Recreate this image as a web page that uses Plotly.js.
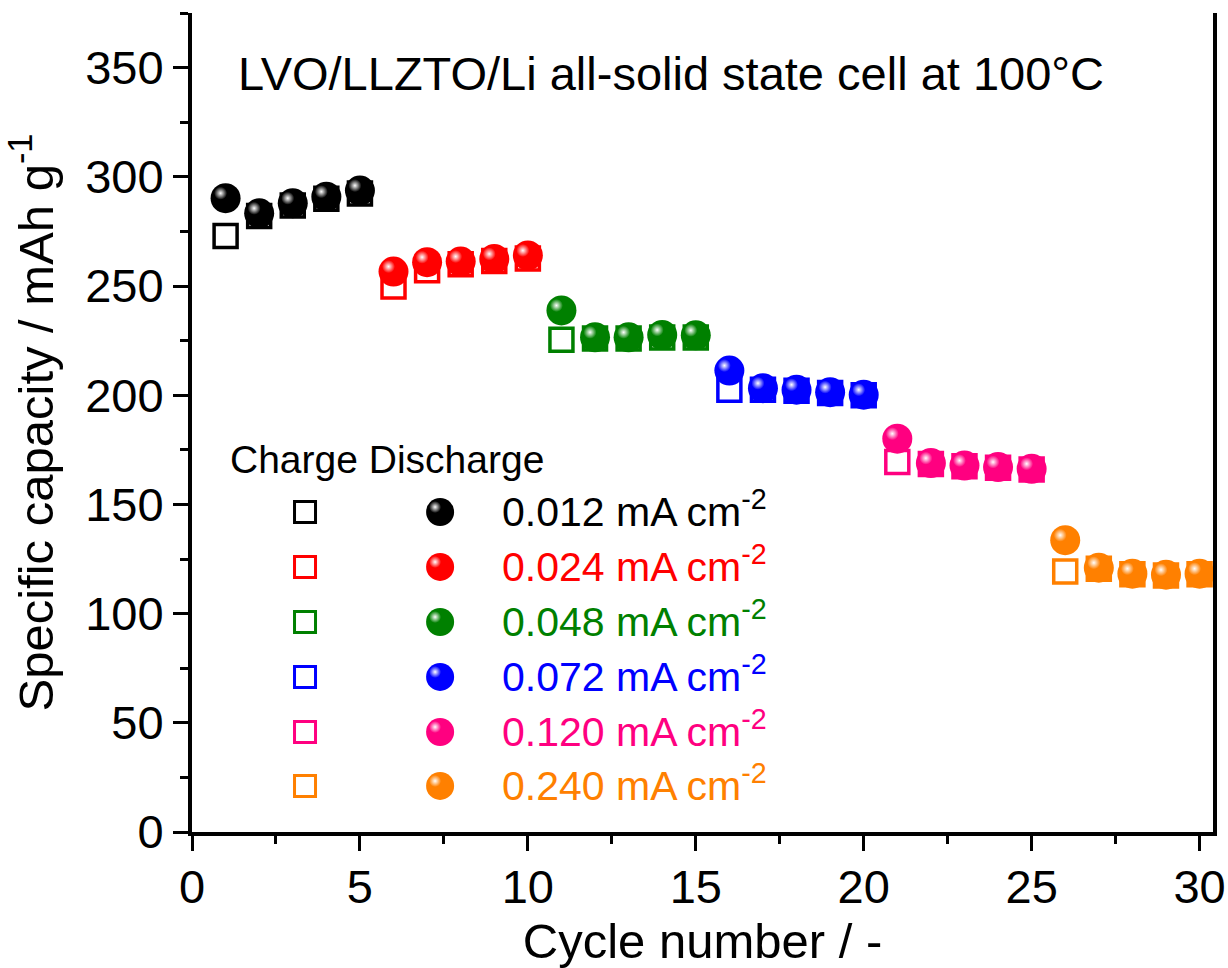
<!DOCTYPE html>
<html>
<head>
<meta charset="utf-8">
<script src="https://cdn.plot.ly/plotly-3.0.1.min.js"></script>
<style>html,body{margin:0;padding:0;background:#fff;}#chart{width:1228px;height:968px;}</style>
</head>
<body>
<div id="chart"></div>
<script>
// ---- data ----
const cyclesA = [1, 2, 3, 4, 5];
const cyclesB = [6, 7, 8, 9, 10];
const cyclesC = [11, 12, 13, 14, 15];
const cyclesD = [16, 17, 18, 19, 20];
const cyclesE = [21, 22, 23, 24, 25];
const cyclesF = [26, 27, 28, 29, 30];

const charge012 = [272.9, 282.0, 286.9, 290.0, 292.3];
const charge024 = [249.8, 257.2, 260.0, 261.5, 262.6];
const charge048 = [225.4, 226.0, 226.0, 226.4, 226.4];
const charge072 = [202.5, 202.5, 202.0, 201.0, 200.0];
const charge120 = [169.4, 168.5, 167.5, 166.8, 166.0];
const charge240 = [119.3, 120.5, 118.0, 117.5, 118.0];

const discharge012 = [290.2, 283.3, 287.9, 290.9, 293.7];
const discharge024 = [256.6, 260.9, 261.2, 262.4, 264.0];
const discharge048 = [238.8, 226.5, 226.5, 227.6, 227.4];
const discharge072 = [211.3, 203.2, 202.5, 201.4, 200.2];
const discharge120 = [180.1, 168.9, 167.8, 167.1, 166.3];
const discharge240 = [133.6, 121.0, 118.3, 117.8, 118.3];

const rateLabels = ['0.012 mA cm<sup>-2</sup>', '0.024 mA cm<sup>-2</sup>', '0.048 mA cm<sup>-2</sup>',
                    '0.072 mA cm<sup>-2</sup>', '0.120 mA cm<sup>-2</sup>', '0.240 mA cm<sup>-2</sup>'];
const colors = ['#000000', '#FF0000', '#008000', '#0000FF', '#FF0080', '#FF8000'];

const xTickVals = [0, 5, 10, 15, 20, 25, 30];
const yTickVals = [0, 50, 100, 150, 200, 250, 300, 350];

// ---- build ----
const groups = [
  [cyclesA, charge012, discharge012],
  [cyclesB, charge024, discharge024],
  [cyclesC, charge048, discharge048],
  [cyclesD, charge072, discharge072],
  [cyclesE, charge120, discharge120],
  [cyclesF, charge240, discharge240]
];

const FONT = '"Liberation Sans", Arial, Helvetica, sans-serif';
const traces = [];
// charge squares first (beneath)
groups.forEach((g, i) => {
  traces.push({x: g[0], y: g[1], type: 'scatter', mode: 'markers', showlegend: false, hoverinfo: 'skip',
    marker: {symbol: 'square-open', size: 23, color: colors[i], line: {color: colors[i], width: 3.5}}});
});
// discharge spheres
groups.forEach((g, i) => {
  traces.push({x: g[0], y: g[2], type: 'scatter', mode: 'markers', showlegend: false, hoverinfo: 'skip',
    marker: {symbol: 'circle', size: 30, color: colors[i], line: {width: 0}}});
});
// highlights on spheres (shifted overlay axes)
groups.forEach((g, i) => {
  traces.push({x: g[0], y: g[2], xaxis: 'x2', yaxis: 'y2', type: 'scatter', mode: 'markers', showlegend: false, hoverinfo: 'skip',
    marker: {symbol: 'circle', size: 13, color: colors[i], line: {width: 0}, gradient: {type: 'radial', color: '#FFFFFF'}}});
});

// custom legend markers on a [0,1] overlay axis
const legRowY = [0.3907, 0.3236, 0.2564, 0.1893, 0.1221, 0.0562];
const legSqX = 0.1107, legCirX = 0.243, legTxtX = 0.3016;
legRowY.forEach((yy, i) => {
  traces.push({x: [legSqX], y: [yy], xaxis: 'x3', yaxis: 'y3', type: 'scatter', mode: 'markers', showlegend: false, hoverinfo: 'skip',
    marker: {symbol: 'square-open', size: 21, color: colors[i], line: {color: colors[i], width: 3}}});
  traces.push({x: [legCirX], y: [yy], xaxis: 'x3', yaxis: 'y3', type: 'scatter', mode: 'markers', showlegend: false, hoverinfo: 'skip',
    marker: {symbol: 'circle', size: 28, color: colors[i], line: {width: 0}}});
  traces.push({x: [legCirX - 0.0049], y: [yy + 0.0061], xaxis: 'x3', yaxis: 'y3', type: 'scatter', mode: 'markers', showlegend: false, hoverinfo: 'skip',
    marker: {symbol: 'circle', size: 12, color: colors[i], line: {width: 0}, gradient: {type: 'radial', color: '#FFFFFF'}}});
});

const annotations = [
  {text: 'LVO/LLZTO/Li all-solid state cell at 100°C', xref: 'paper', yref: 'paper', x: 0.043, y: 0.9267,
   xanchor: 'left', yanchor: 'middle', showarrow: false, font: {family: FONT, size: 47, color: '#000'}},
  {text: 'Charge Discharge', xref: 'paper', yref: 'paper', x: 0.0353, y: 0.4554,
   xanchor: 'left', yanchor: 'middle', showarrow: false, font: {family: FONT, size: 39, color: '#000'}}
];
rateLabels.forEach((t, i) => {
  annotations.push({text: t, xref: 'paper', yref: 'paper', x: legTxtX, y: legRowY[i] + 0.004,
    xanchor: 'left', yanchor: 'middle', showarrow: false, font: {family: FONT, size: 41, color: colors[i]}});
});

const XR = [0, 30.4], YR = [0, 375];
const dx = 5 / 33.57, dy = 5 / 2.186;

const layout = {
  width: 1228, height: 968,
  margin: {l: 192, r: 15, t: 13, b: 136},
  paper_bgcolor: '#fff', plot_bgcolor: '#fff',
  font: {family: FONT, color: '#000'},
  showlegend: false,
  xaxis: {range: XR, tickvals: xTickVals, ticks: 'outside', ticklen: 15, tickwidth: 3, tickcolor: '#000',
    showline: true, linewidth: 4, linecolor: '#000', mirror: false, showgrid: false, zeroline: false,
    tickfont: {family: FONT, size: 47, color: '#000'}, ticklabelstandoff: -4,
    minor: {dtick: 2.5, ticks: 'outside', ticklen: 8, tickwidth: 3, tickcolor: '#000', showgrid: false},
    title: {text: 'Cycle number / -', font: {family: FONT, size: 49, color: '#000'}, standoff: 14}},
  yaxis: {range: YR, tickvals: yTickVals, ticks: 'outside', ticklen: 15, tickwidth: 3, tickcolor: '#000',
    showline: true, linewidth: 4, linecolor: '#000', mirror: true, showgrid: false, zeroline: false,
    tickfont: {family: FONT, size: 47, color: '#000'},
    minor: {dtick: 25, ticks: 'outside', ticklen: 8, tickwidth: 3, tickcolor: '#000', showgrid: false},
    title: {text: 'Specific capacity / mAh g<sup>-1</sup>', font: {family: FONT, size: 49, color: '#000'}, standoff: 17}},
  xaxis2: {overlaying: 'x', range: [XR[0] + dx, XR[1] + dx], visible: false},
  yaxis2: {overlaying: 'y', range: [YR[0] - dy, YR[1] - dy], visible: false},
  xaxis3: {overlaying: 'x', range: [0, 1], visible: false},
  yaxis3: {overlaying: 'y', range: [0, 1], visible: false},
  annotations: annotations
};

Plotly.newPlot('chart', traces, layout, {displayModeBar: false, staticPlot: true});
</script>
</body>
</html>
